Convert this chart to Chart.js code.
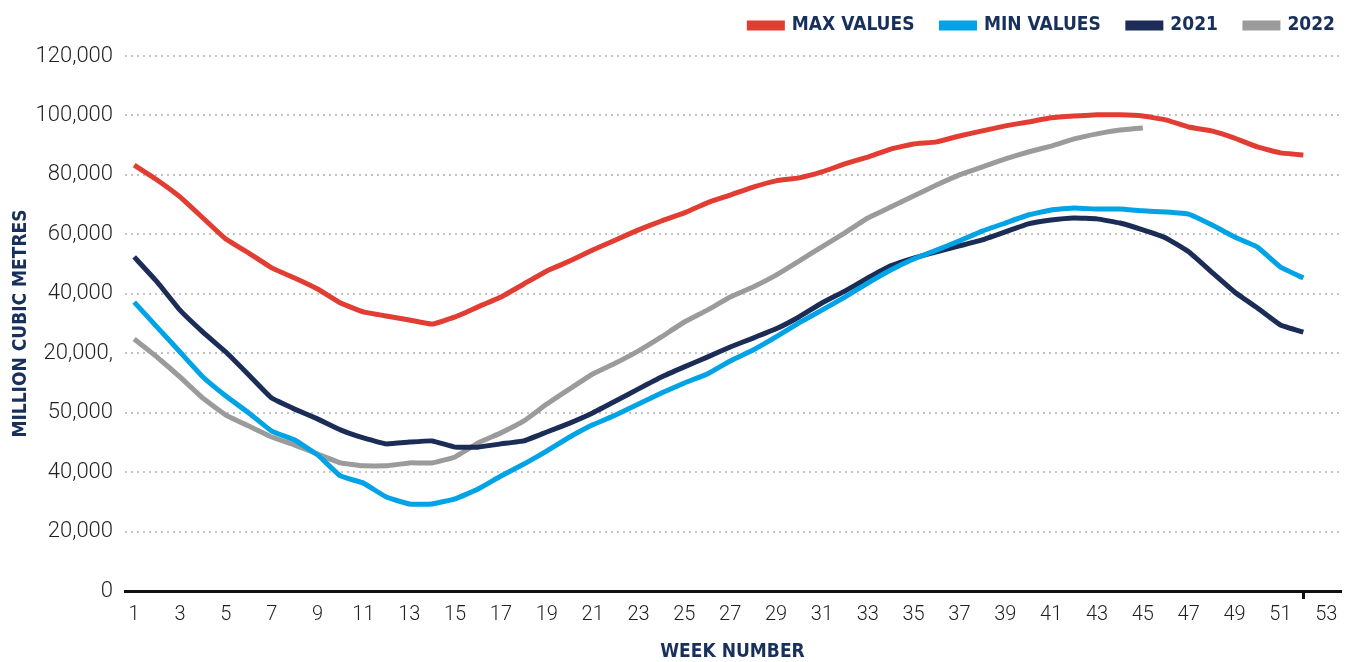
<!DOCTYPE html>
<html>
<head>
<meta charset="utf-8">
<script src="https://cdn.jsdelivr.net/npm/chart.js@4.4.0/dist/chart.umd.min.js"></script>
<style>
  body { margin: 0; background: #fff; }
  #wrap { width: 1350px; height: 662px; }
</style>
</head>
<body>
<div id="wrap"><canvas id="diagram" width="1350" height="662"></canvas></div>
<script>
const weeks = Array.from({ length: 52 }, (_, i) => i + 1);

// y grid labels, bottom to top (as printed on the original)
const yTickLabels = ["0", "20,000", "40,000", "50,000", "20,000,", "40,000", "60,000", "80,000", "100,000", "120,000"];

const maxValues = [
  143300, 138300, 132600, 125500, 118400, 113700, 108700, 105300, 101600, 96900,
  93900, 92500, 91200, 89800, 92200, 95600, 98900, 103300, 107700, 111000,
  114700, 118100, 121500, 124500, 127200, 130600, 133200, 135900, 138000, 139000,
  141000, 143700, 146000, 148700, 150400, 151100, 153100, 154800, 156500, 157800,
  159200, 159800, 160200, 160200, 159800, 158500, 156100, 154800, 152400, 149400,
  147400, 146700
];
const minValues = [
  97200, 88800, 80400, 72000, 65600, 59900, 53800, 50800, 45800, 38700,
  36300, 31600, 29300, 29300, 31000, 34300, 38700, 42700, 47100, 51800,
  55900, 59200, 62900, 66600, 70000, 73000, 77400, 81100, 85500, 90200,
  94500, 98900, 103600, 108000, 111700, 114700, 117800, 121100, 123800, 126500,
  128200, 128900, 128500, 128500, 127900, 127500, 126800, 123200, 119100, 115700,
  109000, 105300
];
const values2021 = [
  112400, 104000, 94500, 87100, 80400, 72700, 64900, 61200, 57900, 54200,
  51500, 49500, 50100, 50500, 48400, 48400, 49500, 50500, 53500, 56500,
  59900, 63900, 68000, 72000, 75400, 78700, 82100, 85100, 88200, 92200,
  96900, 100900, 105300, 109400, 112000, 114100, 116100, 118100, 120800, 123500,
  124800, 125500, 125200, 123800, 121500, 118800, 114100, 107300, 100600, 95200,
  89500, 87100
];
const values2022 = [
  84800, 78700, 72000, 64900, 59200, 55500, 51800, 49100, 46100, 43100,
  42100, 42100, 43100, 43100, 45100, 49800, 53200, 57200, 62900, 68000,
  73000, 76700, 80800, 85500, 90500, 94500, 98900, 102300, 106300, 111000,
  115800, 120500, 125500, 129200, 132900, 136600, 140000, 142700, 145400, 147700,
  149700, 152100, 153800, 155100, 155800
];

const navy = "#17305c";
const condensed = "'Liberation Sans Narrow', 'DejaVu Sans Condensed', sans-serif";

const toPoints = (arr) => arr.map((v, i) => ({ x: weeks[i], y: v }));

const series = [
  { label: "MAX VALUES", data: maxValues, color: "#e23d33" },
  { label: "MIN VALUES", data: minValues, color: "#00a3e6" },
  { label: "2021", data: values2021, color: "#1b2d57" },
  { label: "2022", data: values2022, color: "#9b9b9b" },
];

// legend sits higher and further right than chart.js puts it
const legendShift = {
  id: "legendShift",
  afterLayout(chart) {
    const lg = chart.legend;
    lg.top -= 11;
    lg.bottom -= 11;
    lg.left += 22;
    lg.right += 22;
  },
};

const ctx = document.querySelector("#diagram").getContext("2d");
new Chart(ctx, {
  type: "line",
  plugins: [legendShift],
  data: {
    datasets: series.map((s) => ({
      label: s.label,
      data: toPoints(s.data),
      borderColor: s.color,
      backgroundColor: s.color,
      borderWidth: 5,
      pointRadius: 0,
      tension: 0.1,
    })),
  },
  options: {
    responsive: false,
    animation: false,
    layout: { padding: { top: 0, left: 10, right: 10, bottom: 0 } },
    plugins: {
      tooltip: { enabled: false },
      legend: {
        position: "top",
        align: "end",
        labels: {
          boxWidth: 33,
          boxHeight: 5,
          padding: 27,
          color: navy,
          font: { family: condensed, size: 19, weight: "bold" },
        },
      },
    },
    scales: {
      x: {
        type: "linear",
        min: 0.6,
        max: 53.6,
        afterBuildTicks: (scale) => {
          const t = [];
          for (let w = 1; w <= 53; w += 2) t.push({ value: w });
          t.splice(26, 0, { value: 52 });
          scale.ticks = t;
        },
        afterFit: (scale) => {
          scale.height = 71;
        },
        ticks: {
          autoSkip: false,
          maxRotation: 0,
          padding: 4,
          color: "#231f20",
          font: { family: "Roboto", size: 20, weight: "300" },
          callback: (v) => (v === 52 ? "" : String(v)),
        },
        grid: {
          drawOnChartArea: false,
          drawTicks: true,
          tickLength: 8,
          lineWidth: 3,
          color: (c) => (c.tick && c.tick.value === 52 ? "#111" : "rgba(0,0,0,0)"),
        },
        border: { display: true, color: "#111", width: 3 },
        title: {
          display: true,
          text: "WEEK NUMBER",
          color: navy,
          padding: { top: 0, bottom: 0 },
          font: { family: condensed, size: 19, weight: "bold", lineHeight: 1 },
        },
      },
      y: {
        min: 0,
        max: 180000,
        afterFit: (scale) => {
          scale.width = 115;
        },
        ticks: {
          stepSize: 20000,
          padding: 12,
          color: "#231f20",
          font: { family: "Roboto", size: 22, weight: "300" },
          callback: (v) => yTickLabels[Math.round(v / 20000)],
        },
        grid: {
          drawTicks: false,
          lineWidth: 2,
          color: (c) => (c.tick && c.tick.value === 0 ? "rgba(0,0,0,0)" : "#c4c4c4"),
        },
        border: { display: false, dash: [2, 4] },
        title: {
          display: true,
          text: "MILLION CUBIC METRES",
          color: navy,
          padding: { top: 0, bottom: 0 },
          font: { family: condensed, size: 19, weight: "bold" },
        },
      },
    },
  },
});
</script>
</body>
</html>
